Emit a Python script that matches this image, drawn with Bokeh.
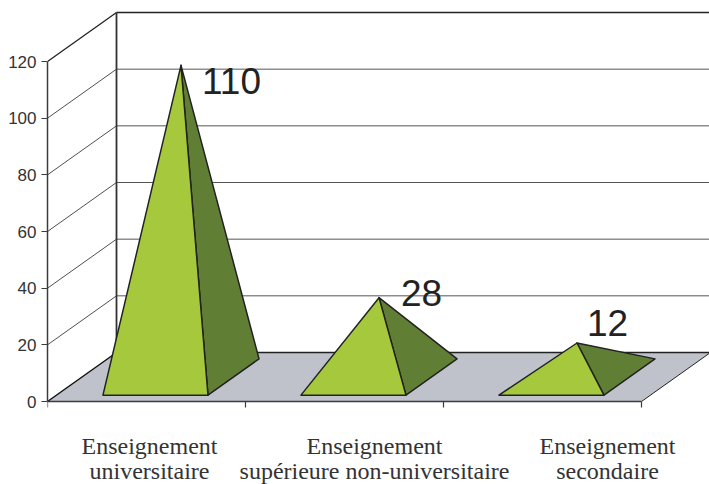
from bokeh.embed import file_html
from bokeh.resources import INLINE
from bokeh.plotting import figure
from bokeh.models import Range1d, FixedTicker, Label

categories_top = ["Enseignement", "Enseignement", "Enseignement"]
categories_bottom = ["universitaire", "supérieure non-universitaire", "secondaire"]
values = [110, 28, 12]
y_ticks = [0, 20, 40, 60, 80, 100, 120]
x_ticks = [0, 1, 2, 3]

# Page geometry
W, H = 709, 484
X0_PX, Y0_PX = 47, 401            # origin on page
CAT_PX = 198.0                    # px per category
VAL_PX = 340 / 120                # px per value unit
DEPTH_X = 69 / CAT_PX             # oblique depth in category units
DEPTH_Y = 49 / VAL_PX             # oblique depth in value units


def proj(c, v, d):
    return c + d * DEPTH_X, v + d * DEPTH_Y


def pts(*triples):
    xy = [proj(*t) for t in triples]
    return [a for a, _ in xy], [b for _, b in xy]


p = figure(
    width=W, height=H, output_backend="svg", toolbar_location=None,
    x_range=Range1d(0, (W - X0_PX) / CAT_PX),
    y_range=Range1d((Y0_PX - H) / VAL_PX, Y0_PX / VAL_PX),
    min_border_left=X0_PX, min_border_right=0, min_border_top=0,
    min_border_bottom=0,
    background_fill_color=None, border_fill_color=None, outline_line_color=None,
)
p.grid.visible = False

AX = "#3c3c3c"
p.yaxis.ticker = FixedTicker(ticks=y_ticks)
p.yaxis.bounds = (0, 120)
p.yaxis.major_label_text_font = "Liberation Sans"
p.yaxis.major_label_text_font_size = "17px"
p.yaxis.major_label_text_color = "#333333"
p.yaxis.major_label_standoff = 5
p.yaxis.major_tick_in = 0
p.yaxis.major_tick_out = 6
p.yaxis.minor_tick_line_color = None
p.yaxis.axis_line_color = AX
p.yaxis.axis_line_width = 1.5
p.yaxis.major_tick_line_color = AX
p.yaxis.major_tick_line_width = 1.2

p.xaxis.ticker = FixedTicker(ticks=x_ticks)
p.xaxis.bounds = (0, 3)
p.xaxis.fixed_location = 0
p.xaxis.level = "annotation"
p.xaxis.major_label_overrides = {t: "" for t in x_ticks}
p.xaxis.major_tick_in = 0
p.xaxis.major_tick_out = 6
p.xaxis.minor_tick_line_color = None
p.xaxis.axis_line_color = AX
p.xaxis.axis_line_width = 1.5
p.xaxis.major_tick_line_color = AX
p.xaxis.major_tick_line_width = 1.2

# Floor
fx, fy = pts((0, 0, 0), (3, 0, 0), (3, 0, 1), (0, 0, 1))
p.patch(fx, fy, fill_color="#bfc2cb", line_color=None)
bx, by = pts((0, 0, 1), (3, 0, 1))
p.line(bx, by, line_color="#222222", line_width=1.5)
rx, ry = pts((3, 0, 0), (3, 0, 1))
p.line(rx, ry, line_color="#222222", line_width=1)
lx, ly = pts((0, 0, 0), (0, 0, 1))
p.line(lx, ly, line_color="#111111", line_width=1.5)

# Walls: gridlines on the back plane and diagonals on the side wall
for t in y_ticks[1:]:
    gx, gy = pts((0, t, 1), (3, t, 1))
    top = t == y_ticks[-1]
    p.line(gx, gy, line_color="#222222" if top else "#555555", line_width=1.3 if top else 1)
    dx, dy = pts((0, t, 0), (0, t, 1))
    p.line(dx, dy, line_color="#222222", line_width=1.3 if top else 0.8)
wx, wy = pts((0, 0, 1), (0, y_ticks[-1], 1))
p.line(wx, wy, line_color="#333333", line_width=1.8)

# Pyramids
HALF = 52.5 / CAT_PX
D0, D1 = 0.13, 0.87
EDGE = "#222222"
for i, v in enumerate(values):
    c = i + 0.5
    apex = (c, v, 0.5)
    x1, y1 = pts((c - HALF, 0, D0), (c + HALF, 0, D0), apex)
    x2, y2 = pts((c + HALF, 0, D0), (c + HALF, 0, D1), apex)
    p.patch(x2, y2, fill_color="#607f35", line_color=EDGE, line_width=1.5, line_join="round")
    p.patch(x1, y1, fill_color="#a6c83c", line_color=EDGE, line_width=1.5, line_join="round")

# Value labels, placed beside each apex
label_offsets = [(21, -16), (22, 5), (10, 20)]
for i, v in enumerate(values):
    ax, ay = proj(i + 0.5, v, 0.5)
    ox, oy = label_offsets[i]
    p.add_layout(Label(x=ax, y=ay, x_offset=ox, y_offset=oy, text=str(v),
                       text_font="Liberation Sans", text_font_size="37px",
                       text_color="#222222", text_align="left", text_baseline="alphabetic"))

# Category labels
label_centres = [(149 - X0_PX) / CAT_PX, (374 - X0_PX) / CAT_PX, (607 - X0_PX) / CAT_PX]
for c, top, bottom in zip(label_centres, categories_top, categories_bottom):
    for txt, off in ((top, -44), (bottom, -69)):
        p.add_layout(Label(x=c, y=0, y_offset=off, text=txt,
                           text_font="Liberation Serif", text_font_size="24px",
                           text_color="#333333", text_align="center", text_baseline="alphabetic"))

open("out.html", "w").write(file_html(p, INLINE))
